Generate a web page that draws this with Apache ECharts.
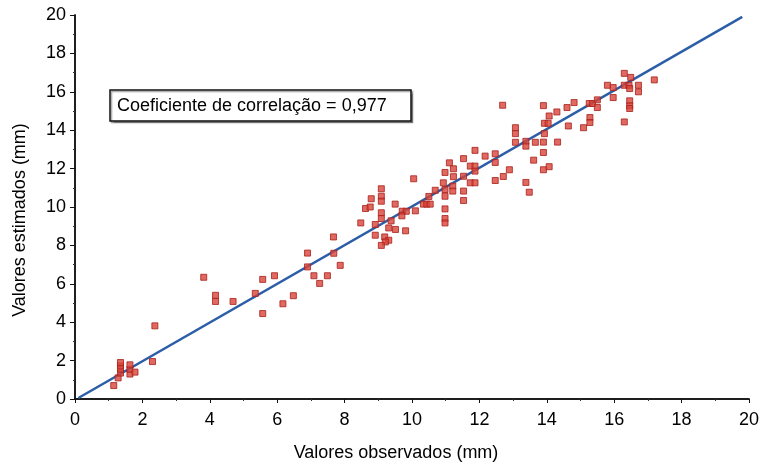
<!DOCTYPE html>
<html>
<head>
<meta charset="utf-8">
<script src="https://cdn.jsdelivr.net/npm/echarts@6/dist/echarts.min.js"></script>
<style>html,body{margin:0;padding:0;background:#fff}#c{width:762px;height:467px}</style>
</head>
<body>
<div id="c"></div>
<script>
var observed = [
  1.15,1.28,1.35,1.35,1.35,1.35,1.63,1.63,1.63,1.78,2.3,2.37,
  3.82,4.17,4.17,4.69,5.35,5.57,5.57,5.92,6.17,6.48,6.9,6.9,7.09,7.26,7.49,7.67,7.68,7.87,
  8.48,8.62,8.76,8.79,9.09,9.09,9.09,9.09,9.09,8.91,8.91,9.19,9.31,9.21,9.09,9.38,9.31,9.51,9.5,
  9.71,9.83,9.7,9.81,10.1,10.05,10.34,10.44,10.54,10.5,10.69,10.93,10.98,11.11,11.23,11.23,
  10.98,10.98,10.98,10.98,10.98,11.21,11.21,11.53,11.53,11.53,11.53,11.87,11.73,11.87,11.87,11.73,11.87,
  12.17,12.47,12.47,12.47,12.71,12.89,12.69,13.07,13.07,13.07,13.38,13.38,13.66,13.38,13.48,13.61,
  13.9,13.9,13.9,13.93,13.93,14.04,13.9,14.07,14.07,14.3,14.32,14.6,14.81,14.64,15.09,15.28,15.28,
  15.26,15.36,15.5,15.5,15.8,15.97,15.97,16.3,16.49,16.3,16.44,16.46,16.72,16.72,16.46,16.46,16.46,16.3,17.19
];
var estimated = [
  0.7,1.1,1.35,1.55,1.72,1.9,1.3,1.55,1.78,1.4,1.95,3.81,
  6.34,5.4,5.08,5.08,5.5,6.23,4.45,6.42,4.96,5.38,7.6,6.88,6.42,6.02,6.42,8.44,7.59,6.96,
  9.17,9.92,10.0,10.43,10.95,10.56,10.3,9.7,9.4,9.09,8.53,8.44,8.27,8.18,8.0,9.28,8.91,8.83,10.15,
  9.78,9.78,9.54,8.76,9.8,11.47,10.15,10.15,10.15,10.55,10.87,11.26,11.8,12.3,11.99,11.58,
  10.91,10.56,9.9,9.4,9.17,11.09,10.83,12.52,11.6,10.83,10.34,12.95,12.13,12.13,11.87,11.26,11.26,
  12.65,12.77,12.32,11.38,11.59,11.94,15.3,14.13,13.82,13.37,13.42,13.17,13.37,11.28,10.77,12.44,
  12.84,11.94,13.38,13.82,14.36,14.36,15.28,14.74,12.1,14.95,13.38,15.18,15.44,14.22,14.13,14.66,14.4,
  15.39,15.39,15.58,15.18,16.34,16.22,15.7,16.96,16.75,16.34,16.34,16.17,16.34,16.0,15.53,15.27,15.13,14.43,16.62
];
// Fitted line end points
var fitX = [0.1, 19.8];
var fitY = [0.05, 19.9];
var axisTicks = [0, 2, 4, 6, 8, 10, 12, 14, 16, 18, 20];
var annotation = 'Coeficiente de correlação = 0,977';
var xTitle = 'Valores observados (mm)';
var yTitle = 'Valores estimados (mm)';

var pts = observed.map(function (x, i) { return [x, estimated[i]]; });
var fit = fitX.map(function (x, i) { return [x, fitY[i]]; });

var FONT = 'Liberation Sans, Arial, sans-serif';
var baseAxis = {
  min: axisTicks[0], max: axisTicks[axisTicks.length - 1], interval: axisTicks[1] - axisTicks[0],
  axisLine: { lineStyle: { color: '#111', width: 1.5 } },
  splitLine: { show: false },
  minorTick: { show: true, splitNumber: 2, length: 2, lineStyle: { color: '#333' } },
  minorSplitLine: { show: false }
};
function ax(extra) { return Object.assign({}, baseAxis, extra); }

var chart = echarts.init(document.getElementById('c'), null, { renderer: 'canvas' });
chart.setOption({
  backgroundColor: '#fff',
  animation: false,
  grid: { left: 75, right: 12, top: 15, bottom: 68 },
  xAxis: [
    ax({ type: 'value', position: 'bottom', name: xTitle, nameLocation: 'middle', nameGap: 45,
      nameTextStyle: { fontFamily: FONT, fontSize: 18, color: '#000', padding: [0, 32, 0, 0] },
      axisTick: { show: true, length: 4, lineStyle: { color: '#111' } },
      axisLabel: { fontFamily: FONT, fontSize: 18, color: '#000', margin: 12 } }),
    ax({ type: 'value', position: 'top',
      axisTick: { show: true, inside: true, length: 4, lineStyle: { color: '#111' } },
      axisLabel: { show: false } })
  ],
  yAxis: [
    ax({ type: 'value', position: 'left', name: yTitle, nameLocation: 'middle', nameGap: 46,
      nameTextStyle: { fontFamily: FONT, fontSize: 18, color: '#000', padding: [0, 26, 0, 0] },
      axisTick: { show: true, length: 5, lineStyle: { color: '#111' } },
      axisLabel: { fontFamily: FONT, fontSize: 18, color: '#000', margin: 9 } }),
    ax({ type: 'value', position: 'right',
      axisTick: { show: true, inside: true, length: 4, lineStyle: { color: '#111' } },
      axisLabel: { show: false } })
  ],
  series: [
    { type: 'line', data: fit, xAxisIndex: 0, yAxisIndex: 0, symbol: 'none',
      lineStyle: { color: '#2c5ea8', width: 2.5 }, z: 2 },
    { type: 'scatter', data: pts, xAxisIndex: 0, yAxisIndex: 0, symbol: 'rect', symbolSize: 6,
      itemStyle: { color: '#d8443a', borderColor: '#a8211a', borderWidth: 1 }, z: 3 }
  ],
  graphic: [
    { type: 'rect', shape: { x: 110, y: 90, width: 301, height: 31 },
      style: { fill: '#fff', stroke: '#111', lineWidth: 1.5, shadowColor: 'rgba(0,0,0,0.35)', shadowOffsetX: 1.5, shadowOffsetY: 1.5, shadowBlur: 1 }, z: 10 },
    { type: 'text', x: 117, y: 106,
      style: { text: annotation, font: '18px ' + FONT, fill: '#000', verticalAlign: 'middle' }, z: 11 }
  ]
});
</script>
</body>
</html>
